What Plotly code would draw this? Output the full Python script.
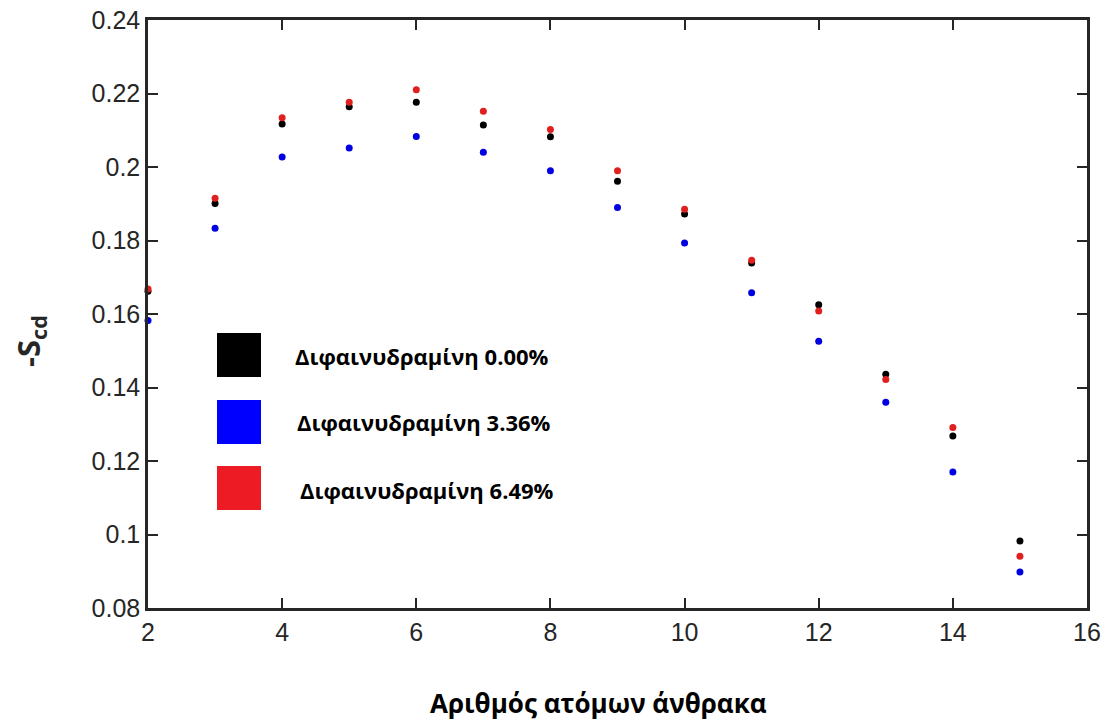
import plotly.graph_objects as go

carbon = [2, 3, 4, 5, 6, 7, 8, 9, 10, 11, 12, 13, 14, 15]
s_000 = [0.1662, 0.1901, 0.2117, 0.2164, 0.2176, 0.2114, 0.2082, 0.1961, 0.1872, 0.1739, 0.1625, 0.1436, 0.1268, 0.0982]
s_336 = [0.1582, 0.1833, 0.2027, 0.2052, 0.2083, 0.2040, 0.1990, 0.1890, 0.1793, 0.1658, 0.1526, 0.1360, 0.1170, 0.0898]
s_649 = [0.1668, 0.1915, 0.2134, 0.2176, 0.2210, 0.2152, 0.2102, 0.1990, 0.1885, 0.1746, 0.1608, 0.1422, 0.1291, 0.0941]

names = ["Διφαινυδραμίνη 0.00%", "Διφαινυδραμίνη 3.36%", "Διφαινυδραμίνη 6.49%"]
colors = ["#000000", "#0000e0", "#e0201f"]
legend_colors = ["#000000", "#0000ff", "#ed1c24"]
series = [s_000, s_336, s_649]

fig = go.Figure()
for name, col, ys in zip(names, colors, series):
    fig.add_trace(go.Scatter(x=carbon, y=ys, mode="markers", name=name,
                             marker=dict(color=col, size=7), cliponaxis=False))

axis_common = dict(showline=True, linecolor="#262626", linewidth=2.5, mirror="ticks",
                   ticks="inside", ticklen=10, tickwidth=2, tickcolor="#262626",
                   showgrid=False, zeroline=False, automargin=False,
                   tickfont=dict(family="Liberation Sans, Arial", size=25, color="#262626"))

fig.update_xaxes(range=[2, 16], tickvals=[2, 4, 6, 8, 10, 12, 14, 16], **axis_common)
fig.update_yaxes(range=[0.08, 0.24], tickvals=[0.08, 0.10, 0.12, 0.14, 0.16, 0.18, 0.20, 0.22, 0.24],
                 ticktext=["0.08", "0.1", "0.12", "0.14", "0.16", "0.18", "0.2", "0.22", "0.24"],
                 **axis_common)

W, H = 1105, 724
L, R, T, B = 148, 18, 20, 116
pw, ph = W - L - R, H - T - B

def px(x):
    return (x - L) / pw

def py(y):
    return 1 - (y - T) / ph

# custom legend
sq = [(217, 333), (217, 400), (217, 466)]
txt = [(293, 356), (295, 422), (298, 490)]
for (sx, sy), (tx, ty), col, name in zip(sq, txt, legend_colors, names):
    fig.add_shape(type="rect", xref="paper", yref="paper",
                  x0=px(sx), x1=px(sx + 44), y0=py(sy + 44), y1=py(sy),
                  fillcolor=col, line=dict(width=0))
    fig.add_annotation(xref="paper", yref="paper", x=px(tx), y=py(ty), xanchor="left", yanchor="middle",
                       text="<b>" + name + "</b>", showarrow=False,
                       font=dict(family="Open Sans", size=22, color="#000000"))

fig.add_annotation(xref="paper", yref="paper", x=px(598), y=py(703), xanchor="center", yanchor="middle",
                   text="<b>Αριθμός ατόμων άνθρακα</b>", showarrow=False,
                   font=dict(family="Open Sans", size=26, color="#000000"))
fig.add_annotation(xref="paper", yref="paper", x=px(30), y=py(341), xanchor="center", yanchor="middle",
                   text="<b>-S<sub>cd</sub></b>", showarrow=False, textangle=-90,
                   font=dict(family="Open Sans", size=31, color="#262626"))

fig.update_layout(width=W, height=H, margin=dict(l=L, r=R, t=T, b=B, autoexpand=False),
                  paper_bgcolor="white", plot_bgcolor="white", showlegend=False)

fig.write_html("out.html")
